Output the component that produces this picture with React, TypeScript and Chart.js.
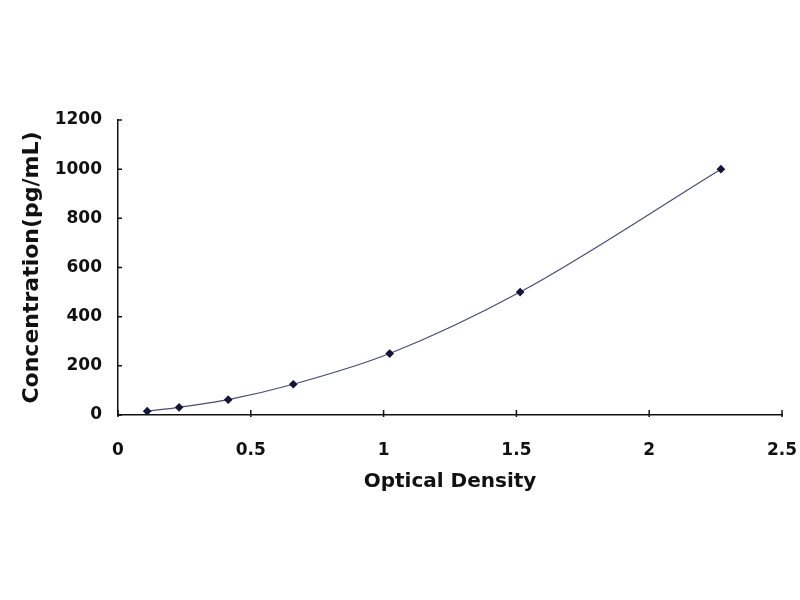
import React, { useEffect, useRef } from "react";
import { Chart, registerables } from "chart.js";

Chart.register(...registerables);

// standard curve: optical density vs concentration
const opticalDensity = [0.11, 0.23, 0.415, 0.66, 1.023, 1.514, 2.27];
const concentration = [15.6, 31.2, 62.5, 125, 250, 500, 1000];

const xTicks = [0, 0.5, 1, 1.5, 2, 2.5];
const yTicks = [0, 200, 400, 600, 800, 1000, 1200];

const FONT = "'DejaVu Sans', sans-serif";

// small tick marks drawn inward, like the original plot
const innerTicks = {
    id: "innerTicks",
    afterDraw(chart: any) {
        const ctx = chart.ctx;
        const x = chart.scales.x;
        const y = chart.scales.y;
        ctx.save();
        ctx.strokeStyle = "#111";
        ctx.lineWidth = 1.5;
        ctx.beginPath();
        xTicks.forEach((v) => {
            const px = x.getPixelForValue(v);
            ctx.moveTo(px, y.bottom - 5);
            ctx.lineTo(px, y.bottom + 2);
        });
        yTicks.forEach((v) => {
            const py = y.getPixelForValue(v);
            ctx.moveTo(x.left - 1, py);
            ctx.lineTo(x.left + 4, py);
        });
        ctx.stroke();
        ctx.restore();
    },
};

export default function App() {
    const chartRef = useRef<HTMLCanvasElement>(null);

    useEffect(() => {
        if (!chartRef.current) return;
        document.body.style.margin = "0";

        const config: any = {
            type: "scatter",
            data: {
                datasets: [
                    {
                        data: opticalDensity.map((od, i) => ({ x: od, y: concentration[i] })),
                        showLine: true,
                        borderColor: "#4a4a78",
                        borderWidth: 1.2,
                        cubicInterpolationMode: "monotone",
                        pointStyle: "rectRot",
                        pointRadius: 3.5,
                        pointBackgroundColor: "#14143a",
                        pointBorderColor: "#14143a",
                    },
                ],
            },
            options: {
                animation: false,
                responsive: false,
                layout: { padding: { top: 120, right: 18, left: 0, bottom: 0 } },
                plugins: {
                    legend: { display: false },
                    tooltip: { enabled: false },
                },
                scales: {
                    x: {
                        type: "linear",
                        min: 0,
                        max: 2.5,
                        afterBuildTicks: (s: any) => {
                            s.ticks = xTicks.map((v) => ({ value: v }));
                        },
                        afterFit: (s: any) => {
                            s.height = 185;
                        },
                        // invisible tick marks only push the labels down
                        grid: {
                            display: true,
                            drawOnChartArea: false,
                            drawTicks: true,
                            tickLength: 25,
                            tickColor: "rgba(0,0,0,0)",
                        },
                        border: { display: true, color: "#111", width: 1.5 },
                        ticks: {
                            padding: 0,
                            color: "#111",
                            callback: (v: number) => String(v),
                            font: { family: FONT, size: 17, weight: "bold" },
                        },
                        title: {
                            display: true,
                            text: "Optical Density",
                            color: "#111",
                            padding: { top: 0, bottom: 106 },
                            font: { family: FONT, size: 20, weight: "bold" },
                        },
                    },
                    y: {
                        type: "linear",
                        min: 0,
                        max: 1200,
                        afterBuildTicks: (s: any) => {
                            s.ticks = yTicks.map((v) => ({ value: v }));
                        },
                        afterFit: (s: any) => {
                            s.width = 118;
                        },
                        grid: { display: false, drawTicks: false },
                        border: { display: true, color: "#111", width: 1.5 },
                        ticks: {
                            padding: 16,
                            color: "#111",
                            callback: (v: number) => String(v),
                            font: { family: FONT, size: 17, weight: "bold" },
                        },
                        title: {
                            display: true,
                            text: "Concentration(pg/mL)",
                            color: "#111",
                            padding: { top: 19, bottom: 0 },
                            font: { family: FONT, size: 22, weight: "bold" },
                        },
                    },
                },
            },
            plugins: [innerTicks],
        };

        const chart = new Chart(chartRef.current, config);
        return () => {
            chart.destroy();
        };
    }, []);

    return (
        <div style={{ width: 800, height: 600, background: "#fff" }}>
            <canvas ref={chartRef} width={800} height={600} style={{ display: "block" }}></canvas>
        </div>
    );
}
